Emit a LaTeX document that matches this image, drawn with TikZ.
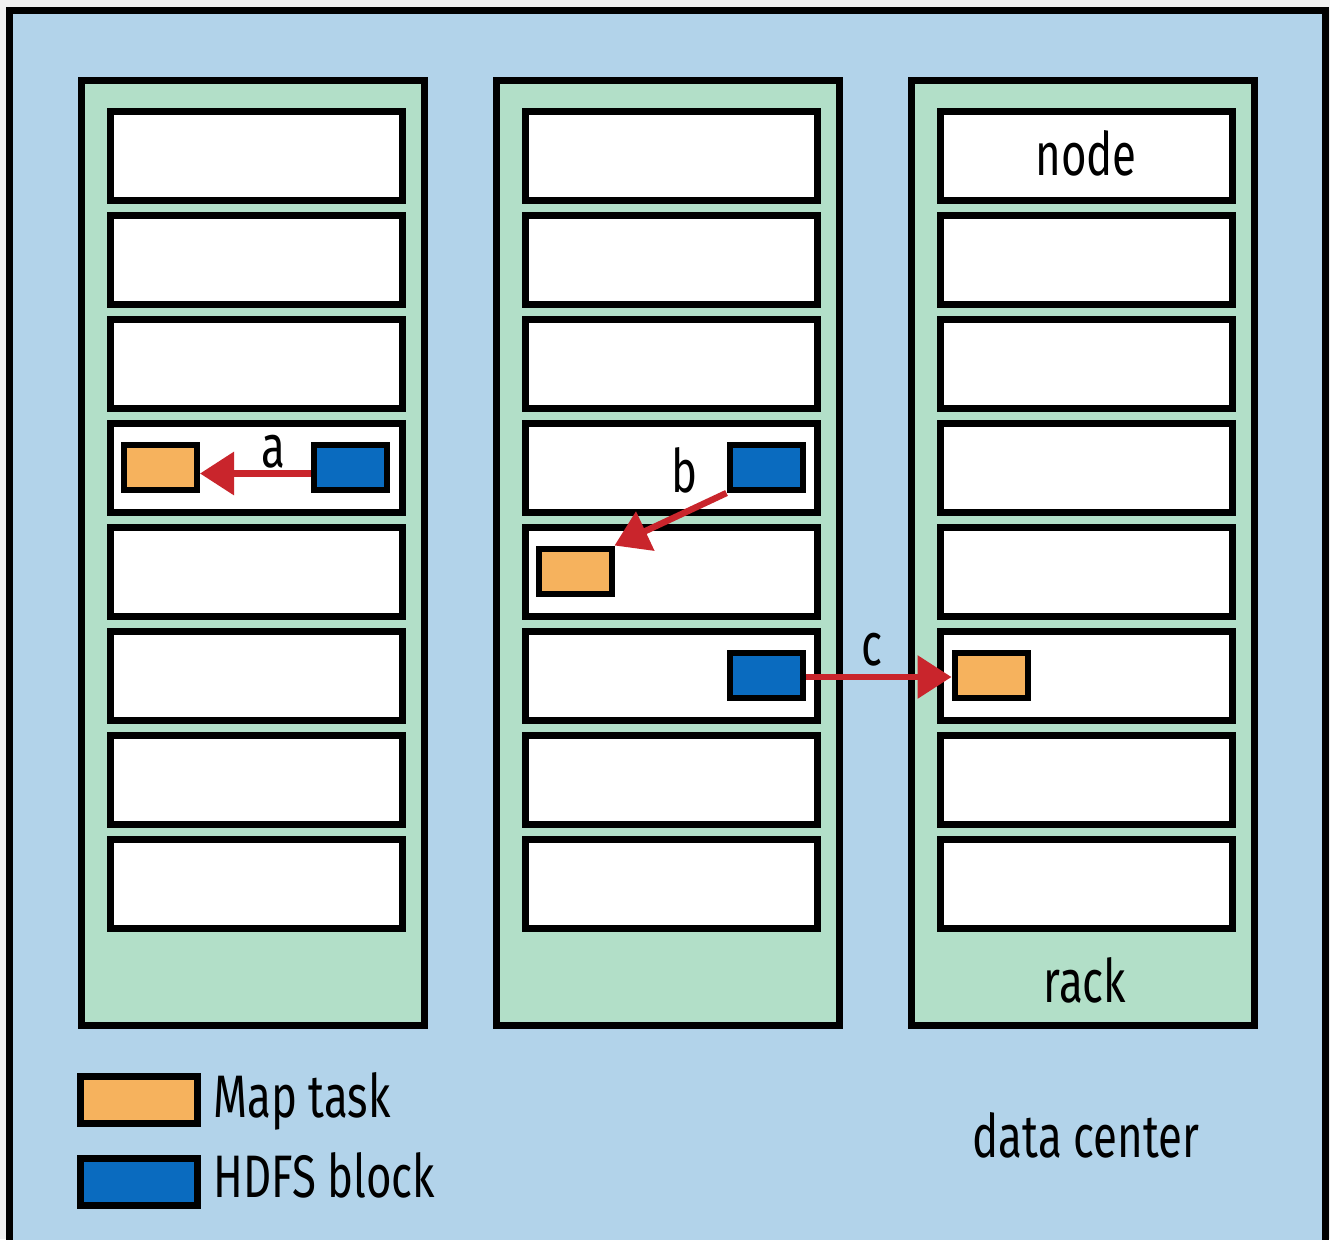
\documentclass[tikz,border=0pt]{standalone}
\usepackage{fontspec}
\setmainfont{Fira Sans}[FakeStretch=0.73]
\usetikzlibrary{arrows.meta}
\definecolor{dcblue}{HTML}{B2D3EA}
\definecolor{rackgreen}{HTML}{B2DFC8}
\definecolor{maporange}{HTML}{F6B25D}
\definecolor{hdfsblue}{HTML}{0A6BBF}
\definecolor{arrowred}{HTML}{C9252C}
\tikzset{
  rackbox/.style={draw=black, line width=3.5pt, fill=rackgreen, rectangle, inner sep=0pt,
    minimum width=171.5pt, minimum height=472.5pt},
  nodebox/.style={draw=black, line width=3.5pt, fill=white, rectangle, inner sep=0pt,
    minimum width=146pt, minimum height=44.5pt},
  maptask/.style={draw=black, line width=3pt, fill=maporange, rectangle, inner sep=0pt,
    minimum width=36.5pt, minimum height=22.5pt},
  hdfsblock/.style={draw=black, line width=3pt, fill=hdfsblue, rectangle, inner sep=0pt,
    minimum width=36.5pt, minimum height=22.5pt},
  legmap/.style={maptask, line width=3.5pt, minimum width=58.5pt, minimum height=23.5pt},
  leghdfs/.style={hdfsblock, line width=3.5pt, minimum width=58.5pt, minimum height=23.5pt},
  lbl/.style={inner sep=0pt, font=\fontsize{30}{36}\selectfont},
  move/.style={draw=arrowred, line width=3.2pt, -{Triangle[length=17pt,width=21pt]}}
}
\begin{document}
\begin{tikzpicture}[x=0.5pt, y=-0.5pt]
\useasboundingbox (0,0) rectangle (1330,1239);
\fill[white!94!black] (0,0) rectangle (1330,1239);
\draw[line width=3.5pt, fill=dcblue] (9,10.5) rectangle (1325,1250);
% racks
\foreach \r/\cx in {1/252.5, 2/668, 3/1082.5} {
  \node[rackbox] (rack\r) at (\cx,552.5) {};
  \foreach \i in {0,...,7} {
    \node[nodebox] (n\r-\i) at ({\cx+3.5},{156+104*\i}) {};
  }
}
% labels
\node[lbl, anchor=base] (nodelbl) at (1086,175) {node};
\node[lbl, anchor=base] (racklbl) at (1085,1002) {rack};
\node[lbl, anchor=base] (dclbl) at (1086,1157) {data center};
% blocks and tasks
\node[maptask] (mt1) at (160.5,467.5) {};
\node[hdfsblock] (hb1) at (350,467.5) {};
\node[hdfsblock] (hb2) at (766,467.5) {};
\node[maptask] (mt2) at (575,571) {};
\node[hdfsblock] (hb3) at (766,675) {};
\node[maptask] (mt3) at (991,675) {};
% arrows
\draw[move] ([yshift=-3pt]hb1.west) -- ([yshift=-3pt]mt1.east);
\draw[move] (hb2.south west) -- (mt2.north east);
\draw[move] ([yshift=-1pt]hb3.east) -- ([yshift=-1pt]mt3.west);
\node[lbl, anchor=base] (la) at (273,467) {a};
\node[lbl, anchor=base] (lb) at (685,492) {b};
\node[lbl, anchor=base] (lc) at (872,665) {c};
% legend
\node[legmap] (legm) at (138.5,1099.5) {};
\node[leghdfs] (legh) at (138.5,1181.5) {};
\node[lbl, anchor=base west] (legmt) at (213,1117) {Map task};
\node[lbl, anchor=base west] (leght) at (213,1197) {HDFS block};
\end{tikzpicture}
\end{document}
